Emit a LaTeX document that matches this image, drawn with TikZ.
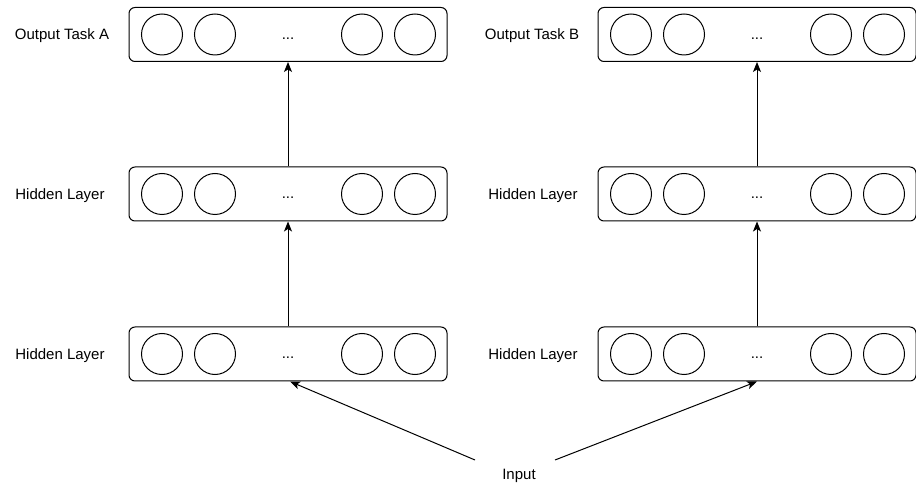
\documentclass[tikz,border=0pt]{standalone}
\usepackage{fontspec}
\setmainfont{Liberation Sans}
\usetikzlibrary{arrows.meta,calc}
\tikzset{
  layerbox/.style={draw, line width=1pt, rounded corners=6pt, minimum width=318pt, minimum height=54pt, inner sep=0pt},
  neuron/.style={draw, circle, line width=1pt, minimum size=41pt, inner sep=0pt},
  txt/.style={font=\fontsize{15}{18}\selectfont, inner sep=0pt, anchor=base},
  conn/.style={line width=1pt, -{Stealth[length=10pt,width=8pt,inset=2.5pt]}},
}
\newcommand{\mklayer}[3]{%
  \node[layerbox] (#1) at (#2,#3) {};
  \foreach \d/\k in {-126/1,-73/2,74/3,127/4}
    \node[neuron] (#1-\k) at ($(#1)+(\d,0)$) {};
  \node[txt] (#1-dots) at ($(#1)+(0,5)$) {...};
}
\begin{document}
\begin{tikzpicture}[x=1pt,y=-1pt]
\fill[white] (0,0) rectangle (916,486);
\useasboundingbox (0,0) rectangle (916,486);
% left column
\mklayer{oA}{288}{34.5}
\mklayer{hA1}{288}{194}
\mklayer{hA2}{288}{354}
% right column
\mklayer{oB}{757}{34.5}
\mklayer{hB1}{757}{194}
\mklayer{hB2}{757}{354}
% labels
\node[txt] (lA1) at (62,40) {Output Task A};
\node[txt] (lA2) at (60,199.5) {Hidden Layer};
\node[txt] (lA3) at (60,359.5) {Hidden Layer};
\node[txt] (lB1) at (532,40) {Output Task B};
\node[txt] (lB2) at (533,199.5) {Hidden Layer};
\node[txt] (lB3) at (533,359.5) {Hidden Layer};
\node[txt] (in) at (519,479.5) {Input};
\coordinate (inL) at (475,460);
\coordinate (inR) at (555,460);
% connectors
\draw[conn] (hA1.north) -- (oA.south);
\draw[conn] (hA2.north) -- (hA1.south);
\draw[conn] (hB1.north) -- (oB.south);
\draw[conn] (hB2.north) -- (hB1.south);
\draw[conn] (inL) -- ($(hA2.south)+(2,0)$);
\draw[conn] (inR) -- (hB2.south);
\end{tikzpicture}
\end{document}
